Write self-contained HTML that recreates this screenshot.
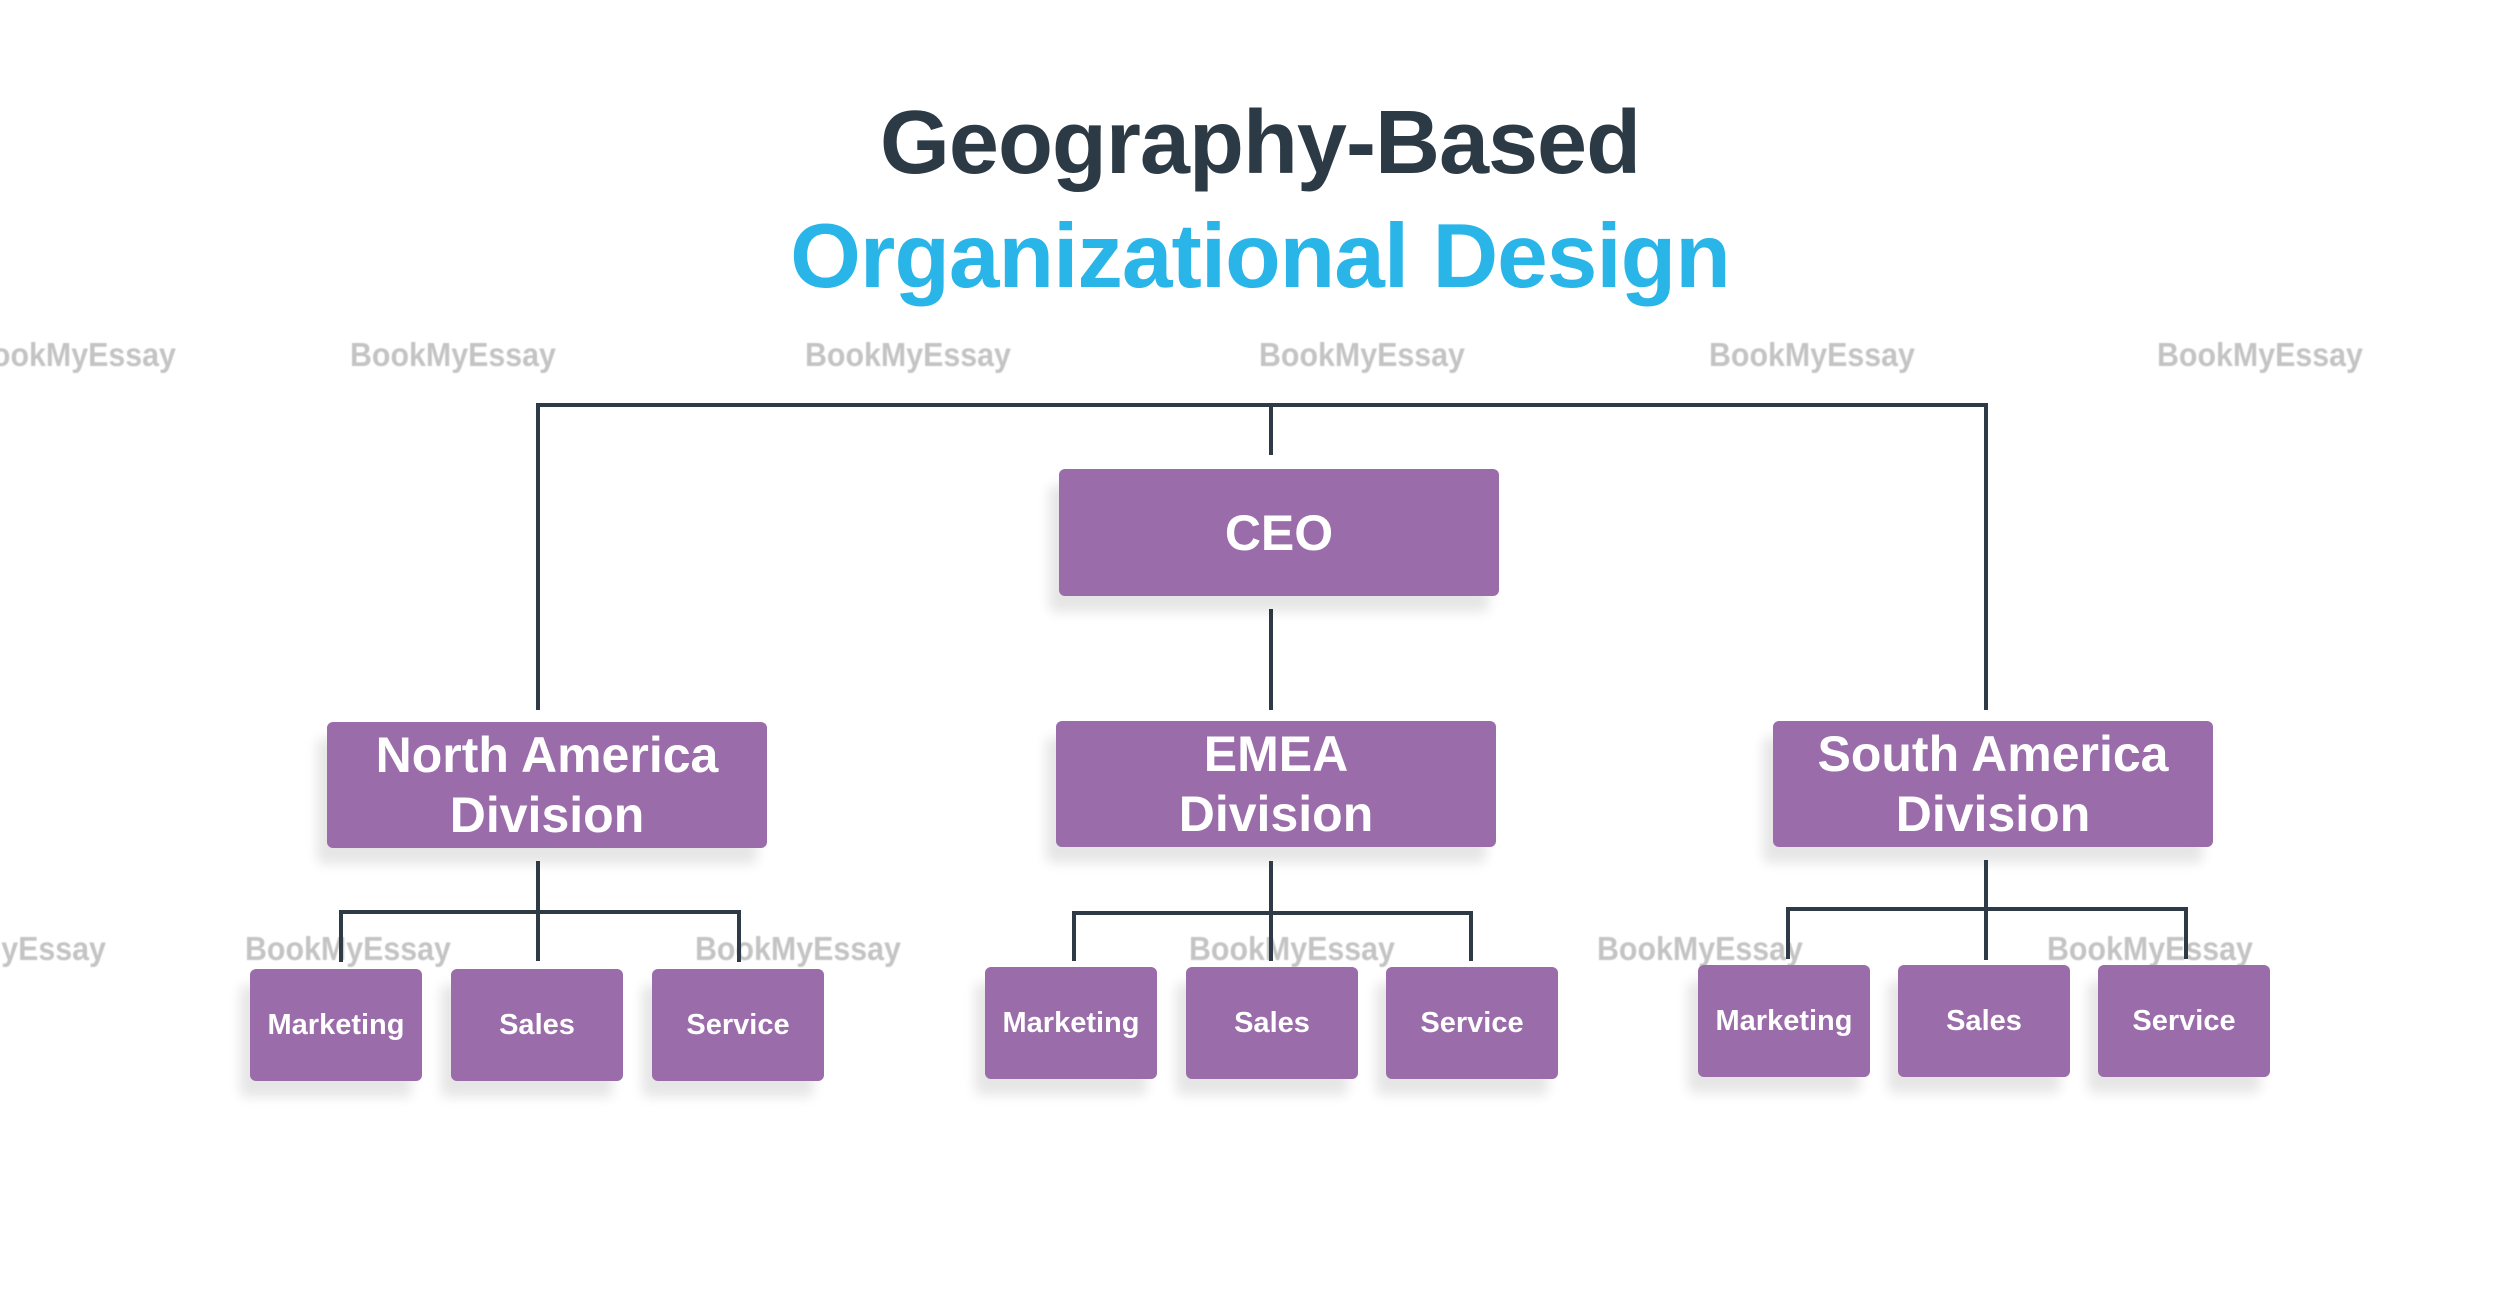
<!DOCTYPE html>
<html><head><meta charset="utf-8"><style>
html,body{margin:0;padding:0;background:#fff;}
body{width:2500px;height:1307px;position:relative;overflow:hidden;font-family:"Liberation Sans",sans-serif;}
.t{position:absolute;left:0;width:2520px;text-align:center;font-weight:bold;white-space:nowrap;}
.l{position:absolute;background:#2e3a46;}
.b{position:absolute;background:#9a6caa;border-radius:6px;color:#fff;font-weight:bold;display:flex;align-items:center;justify-content:center;text-align:center;box-shadow:-10px 16px 12px rgba(0,0,0,0.10);}
.d{font-size:50px;line-height:60px;}
.s{font-size:29px;}
.w{position:absolute;color:#c4c4c4;font-size:33px;font-weight:bold;white-space:nowrap;filter:blur(0.6px);transform:scaleX(0.92);transform-origin:left center;}
</style></head><body>
<div class="t" style="top:92px;font-size:90px;color:#2c3a46;letter-spacing:-1px;">Geography-Based</div>
<div class="t" style="top:205px;font-size:91px;color:#29b5e8;letter-spacing:-1px;">Organizational Design</div>

<div class="w" style="left:-30px;top:336px;">BookMyEssay</div>
<div class="w" style="left:350px;top:336px;">BookMyEssay</div>
<div class="w" style="left:805px;top:336px;">BookMyEssay</div>
<div class="w" style="left:1259px;top:336px;">BookMyEssay</div>
<div class="w" style="left:1709px;top:336px;">BookMyEssay</div>
<div class="w" style="left:2157px;top:336px;">BookMyEssay</div>
<div class="w" style="left:-100px;top:930px;">BookMyEssay</div>
<div class="w" style="left:245px;top:930px;">BookMyEssay</div>
<div class="w" style="left:695px;top:930px;">BookMyEssay</div>
<div class="w" style="left:1189px;top:930px;">BookMyEssay</div>
<div class="w" style="left:1597px;top:930px;">BookMyEssay</div>
<div class="w" style="left:2047px;top:930px;">BookMyEssay</div>

<div class="l" style="left:536px;top:403px;width:1452px;height:4px;"></div>
<div class="l" style="left:536px;top:403px;width:4px;height:307px;"></div>
<div class="l" style="left:1984px;top:403px;width:4px;height:307px;"></div>
<div class="l" style="left:1269px;top:403px;width:4px;height:52px;"></div>
<div class="l" style="left:1269px;top:609px;width:4px;height:101px;"></div>

<div class="b" style="left:1059px;top:469px;width:440px;height:127px;font-size:50px;">CEO</div>

<div class="b d" style="left:327px;top:722px;width:440px;height:126px;">North America<br>Division</div>
<div class="b d" style="left:1056px;top:721px;width:440px;height:126px;">EMEA<br>Division</div>
<div class="b d" style="left:1773px;top:721px;width:440px;height:126px;">South America<br>Division</div>

<div class="l" style="left:536px;top:861px;width:4px;height:100px;"></div>
<div class="l" style="left:339px;top:910px;width:402px;height:4px;"></div>
<div class="l" style="left:339px;top:910px;width:4px;height:52px;"></div>
<div class="l" style="left:737px;top:910px;width:4px;height:52px;"></div>
<div class="l" style="left:1269px;top:861px;width:4px;height:100px;"></div>
<div class="l" style="left:1072px;top:911px;width:401px;height:4px;"></div>
<div class="l" style="left:1072px;top:911px;width:4px;height:50px;"></div>
<div class="l" style="left:1469px;top:911px;width:4px;height:50px;"></div>
<div class="l" style="left:1984px;top:860px;width:4px;height:100px;"></div>
<div class="l" style="left:1786px;top:907px;width:402px;height:4px;"></div>
<div class="l" style="left:1786px;top:907px;width:4px;height:52px;"></div>
<div class="l" style="left:2184px;top:907px;width:4px;height:52px;"></div>

<div class="b s" style="left:250px;top:969px;width:172px;height:112px;">Marketing</div>
<div class="b s" style="left:451px;top:969px;width:172px;height:112px;">Sales</div>
<div class="b s" style="left:652px;top:969px;width:172px;height:112px;">Service</div>

<div class="b s" style="left:985px;top:967px;width:172px;height:112px;">Marketing</div>
<div class="b s" style="left:1186px;top:967px;width:172px;height:112px;">Sales</div>
<div class="b s" style="left:1386px;top:967px;width:172px;height:112px;">Service</div>

<div class="b s" style="left:1698px;top:965px;width:172px;height:112px;">Marketing</div>
<div class="b s" style="left:1898px;top:965px;width:172px;height:112px;">Sales</div>
<div class="b s" style="left:2098px;top:965px;width:172px;height:112px;">Service</div>
</body></html>
